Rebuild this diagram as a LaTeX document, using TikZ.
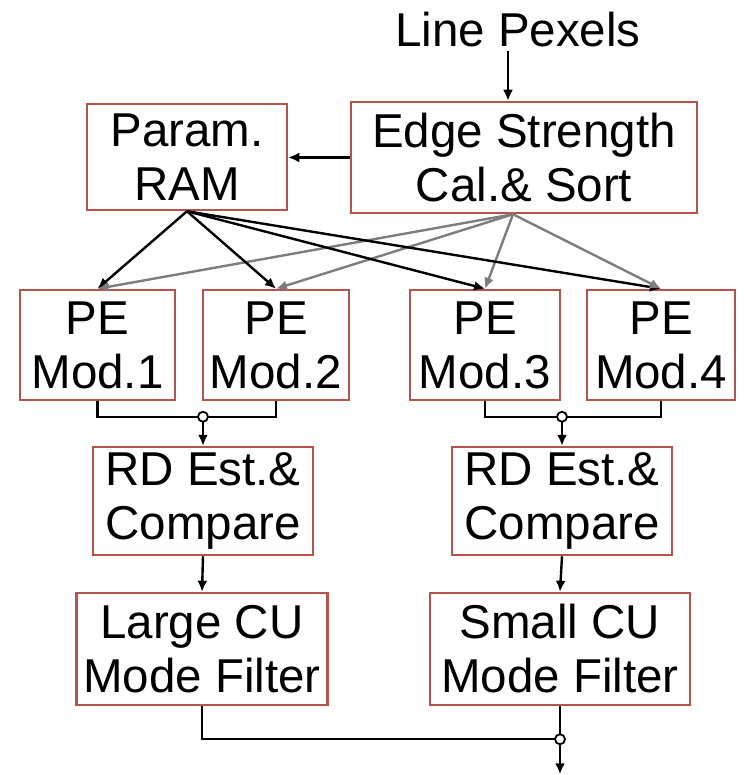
\documentclass[tikz,border=0pt]{standalone}
\usepackage{fontspec}
\setmainfont{Liberation Sans}
\usepackage{tikz}
\usetikzlibrary{calc,arrows,arrows.meta,shapes}
\definecolor{boxred}{RGB}{184,82,74}
\definecolor{wiregray}{RGB}{125,125,125}

\begin{document}
\begin{tikzpicture}[x=1pt,y=-1pt,node distance=148pt,>={Latex[length=11pt,width=10pt]},
    every node/.style={font=\fontsize{47.5}{54}\selectfont,align=center},
    box/.style={draw=boxred,line width=2.5pt,rectangle,inner sep=0pt,minimum height=108pt},
    wire/.style={line width=2.4pt},
    dot/.style={circle,draw,fill=white,line width=1.8pt,inner sep=0pt,minimum size=10pt}]
    \useasboundingbox (0,0) rectangle (750,775);
    % input and first stage
    \node (0) at (518,30) {Line Pexels};
    \node [box,minimum width=346pt,minimum height=111pt] (1) at (524,157.5) {Edge Strength\\Cal.\& Sort};
    \node [box,minimum width=200pt,minimum height=106pt] (2) at (187,157) {Param.\\RAM};
    % PE modules
    \node [box,minimum width=155pt,minimum height=110pt] (3) at (97.5,345) {PE\\Mod.1};
    \node [box,minimum width=146pt,minimum height=110pt] (4) at (276,345) {PE\\Mod.2};
    \node [box,minimum width=150pt,minimum height=110pt] (5) at (485,345) {PE\\Mod.3};
    \node [box,minimum width=148pt,minimum height=110pt] (6) at (661,345) {PE\\Mod.4};
    % RD estimation and filters
    \node [box,minimum width=220pt] (7) at (203,501) {RD Est.\&\\Compare};
    \node [box,minimum width=220pt] (8) at (562,501) {RD Est.\&\\Compare};
    \node [box,minimum width=251pt,minimum height=112pt] (9) at (202,649) {Large CU\\Mode Filter};
    \node [box,minimum width=260pt,minimum height=112pt] (10) at (560,649) {Small CU\\Mode Filter};

    \draw [wire,->] ([xshift=-10pt]0.south) -- ([xshift=-10pt]0.south |- 1.north);
    \draw [wire,->] (1.west) -- (1.west -| 2.east);
    \foreach \pe in {3,4,5,6} {
      \draw [wire,->] (2.south) -- (\pe.north);
      \draw [wire,wiregray,->] ([xshift=-11pt]1.south) -- (\pe.north);
    }

    % merge of PE outputs
    \coordinate (j1) at ($(7.north)+(0,-29)$);
    \coordinate (j2) at ($(8.north)+(0,-29)$);
    \draw [wire] (3.south) |- (j1) -| (4.south);
    \draw [wire] (5.south) |- (j2) -| (6.south);
    \draw [wire,->] (j1) -- (7.north);
    \draw [wire,->] (j2) -- (8.north);
    \node [dot] at (j1) {};
    \node [dot] at (j2) {};
    \draw [wire,->] (7.south) -- (9.north);
    \draw [wire,->] (8.south) -- (10.north);

    % output
    \coordinate (j3) at ($(10.south)+(0,33)$);
    \coordinate (out) at ($(10.south)+(0,68)$);
    \draw [wire] (9.south) |- (j3);
    \draw [wire,->] (10.south) -- (out);
    \node [dot] at (j3) {};
\end{tikzpicture}
\end{document}
